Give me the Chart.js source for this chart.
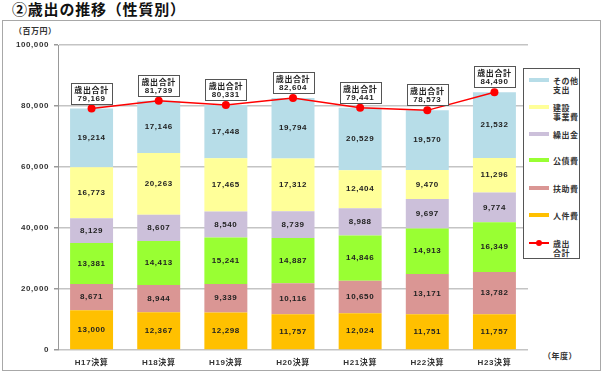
<!DOCTYPE html>
<html><head><meta charset="utf-8">
<script src="https://cdn.jsdelivr.net/npm/chart.js@4/dist/chart.umd.min.js"></script>
<style>
html,body{margin:0;padding:0;background:#fff;}
#wrap{position:relative;width:605px;height:374px;overflow:hidden;font-family:"Noto Sans CJK JP","Liberation Sans",sans-serif;}
#frame{position:absolute;left:2px;top:20px;width:599px;height:351px;border:1px solid #a8a8a8;box-sizing:border-box;}
#title{position:absolute;left:12px;top:0px;font-size:15px;font-weight:bold;color:#111;line-height:18px;letter-spacing:0.8px;}
#unit{position:absolute;left:14px;top:25px;font-size:8px;font-weight:bold;color:#333;letter-spacing:0.5px;}
#nendo{position:absolute;left:543px;top:350px;font-size:8px;font-weight:bold;color:#333;letter-spacing:0.5px;}
canvas{position:absolute;left:0;top:0;}
#legend{position:absolute;left:523px;top:68px;width:57px;height:191px;border:1px solid #555;box-sizing:border-box;background:#fff;}
.li{position:absolute;left:0;width:57px;font-size:8px;font-weight:bold;color:#333;line-height:9px;letter-spacing:0.5px;}
.sw{position:absolute;left:5px;width:20px;height:4px;}
.tx{position:absolute;left:29px;top:0;}
</style></head>
<body>
<div id="wrap">
<div id="frame"></div>
<div id="title">②歳出の推移（性質別）</div>
<div id="unit">（百万円）</div>
<div id="nendo">（年度）</div>
<canvas id="c" width="605" height="374"></canvas>
<div id="legend"></div>
</div>
<script>
const categories = ["H17決算","H18決算","H19決算","H20決算","H21決算","H22決算","H23決算"];
const jinkenhi   = [13000, 12367, 12298, 11757, 12024, 11751, 11757];
const fujohi     = [8671, 8944, 9339, 10116, 10650, 13171, 13782];
const kosaihi    = [13381, 14413, 15241, 14887, 14846, 14913, 16349];
const kuridashi  = [8129, 8607, 8540, 8739, 8988, 9697, 9774];
const kensetsu   = [16773, 20263, 17465, 17312, 12404, 9470, 11296];
const sonota     = [19214, 17146, 17448, 19794, 20529, 19570, 21532];
const total      = [79169, 81739, 80331, 82604, 79441, 78573, 84490];
const yTicks     = [0, 20000, 40000, 60000, 80000, 100000];

const barSeries = [
  {label:"人件費", data:jinkenhi, color:"#ffc000"},
  {label:"扶助費", data:fujohi, color:"#da9694"},
  {label:"公債費", data:kosaihi, color:"#99ff33"},
  {label:"繰出金", data:kuridashi, color:"#ccc0da"},
  {label:"建設\n事業費", data:kensetsu, color:"#ffff99"},
  {label:"その他\n支出", data:sonota, color:"#b7dde8"}
];
const fmt = v => v.toLocaleString("en-US");

const datasets = barSeries.map(s => ({
  type:"bar", label:s.label.replace("\n",""), data:s.data, backgroundColor:s.color,
  borderWidth:0, barPercentage:0.64, categoryPercentage:1, order:1
}));
datasets.push({
  type:"line", label:"歳出合計", data:total, borderColor:"#ff0000", backgroundColor:"#ff0000",
  borderWidth:1.5, pointRadius:4, pointHoverRadius:4, pointBackgroundColor:"#ff0000",
  pointBorderWidth:0, tension:0, order:0
});

const spacingPlugin = {
  id:"spacing",
  beforeDraw(chart){ chart.ctx.letterSpacing = "0.6px"; }
};

const labelPlugin = {
  id:"labels",
  afterDatasetsDraw(chart){
    const ctx = chart.ctx;
    ctx.save();
    ctx.letterSpacing = "0.6px";
    ctx.textAlign = "center"; ctx.textBaseline = "middle";
    ctx.font = "bold 8px 'Liberation Sans', sans-serif";
    ctx.fillStyle = "#222";
    chart.data.datasets.forEach((ds, di) => {
      const meta = chart.getDatasetMeta(di);
      if (ds.type === "bar") {
        meta.data.forEach((el, i) => {
          ctx.fillText(fmt(ds.data[i]), el.x, (el.y + el.base)/2);
        });
      }
    });
    const lmeta = chart.getDatasetMeta(chart.data.datasets.length-1);
    lmeta.data.forEach((el, i) => {
      const w = 41, h = 21;
      const x0 = Math.round(el.x - w/2)+0.5, y0 = Math.round(el.y - 5 - h)+0.5;
      ctx.fillStyle = "#fff";
      ctx.fillRect(x0, y0, w, h);
      ctx.strokeStyle = "#555"; ctx.lineWidth = 1;
      ctx.strokeRect(x0, y0, w, h);
      ctx.fillStyle = "#222";
      ctx.font = "bold 8px 'Noto Sans CJK JP', sans-serif";
      ctx.fillText("歳出合計", el.x, y0 + 6);
      ctx.font = "bold 8px 'Liberation Sans', sans-serif";
      ctx.fillText(fmt(total[i]), el.x, y0 + 15);
    });
    ctx.restore();
  }
};

new Chart(document.getElementById("c"), {
  data:{labels:categories, datasets:datasets},
  options:{
    responsive:false, animation:false,
    layout:{padding:{left:0, right:77, top:45, bottom:0}},
    plugins:{legend:{display:false}, tooltip:{enabled:false}},
    scales:{
      x:{stacked:true, grid:{display:false, drawTicks:false}, border:{display:false},
         ticks:{color:"#333", font:{size:8, weight:"bold", family:"'Liberation Sans','Noto Sans CJK JP'"}, padding:8, maxRotation:0},
         afterFit(s){ s.height = 24; }},
      y:{stacked:true, min:0, max:100000,
         afterBuildTicks(s){ s.ticks = yTicks.map(v=>({value:v})); },
         grid:{color:"#c4c4c4", lineWidth:1.5, tickLength:4, tickColor:"#999"},
         border:{display:true, color:"#999", width:1},
         ticks:{color:"#333", font:{size:8, weight:"bold", family:"'Liberation Sans'"}, padding:5, callback:v=>fmt(v)},
         afterFit(s){ s.width = 58; }}
    }
  },
  plugins:[spacingPlugin, labelPlugin]
});

// legend
const legendItems = [
  {label:"その他\n支出", color:"#b7dde8", top:7},
  {label:"建設\n事業費", color:"#ffff99", top:34},
  {label:"繰出金", color:"#ccc0da", top:61},
  {label:"公債費", color:"#99ff33", top:87},
  {label:"扶助費", color:"#da9694", top:115},
  {label:"人件費", color:"#ffc000", top:142},
  {label:"歳出\n合計", color:"#ff0000", top:170, line:true}
];
const lg = document.getElementById("legend");
legendItems.forEach(it => {
  const d = document.createElement("div");
  d.className = "li"; d.style.top = it.top + "px";
  const sw = document.createElement("div");
  sw.className = "sw";
  if (it.line) {
    sw.style.height = "2px"; sw.style.top = "3px"; sw.style.background = it.color;
    const dot = document.createElement("div");
    dot.style.cssText = "position:absolute;left:7px;top:-2px;width:6px;height:6px;border-radius:3px;background:#ff0000;";
    sw.appendChild(dot);
  } else {
    sw.style.top = "2px"; sw.style.background = it.color;
  }
  const tx = document.createElement("div");
  tx.className = "tx"; tx.innerHTML = it.label.replace("\n","<br>");
  d.appendChild(sw); d.appendChild(tx);
  lg.appendChild(d);
});
</script>
</body></html>
